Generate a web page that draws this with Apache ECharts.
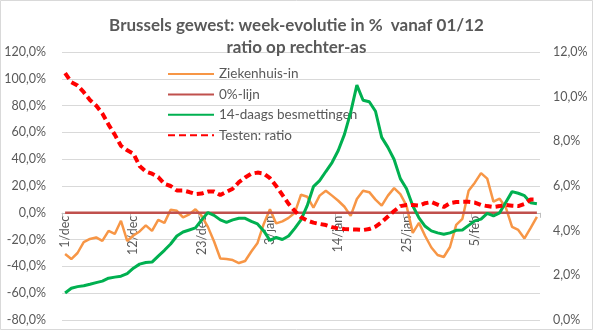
<!DOCTYPE html>
<html>
<head>
<meta charset="utf-8">
<script src="https://cdn.jsdelivr.net/npm/echarts@6/dist/echarts.min.js"></script>
<style>
  html, body { margin: 0; padding: 0; background: #fff; }
  #chart { width: 593px; height: 330px; }
</style>
</head>
<body>
<div id="chart"></div>
<script>
// Dagelijkse categorieën 1/dec .. 15/feb
const dates = [
  '1/dec','2/dec','3/dec','4/dec','5/dec','6/dec','7/dec','8/dec','9/dec','10/dec',
  '11/dec','12/dec','13/dec','14/dec','15/dec','16/dec','17/dec','18/dec','19/dec','20/dec',
  '21/dec','22/dec','23/dec','24/dec','25/dec','26/dec','27/dec','28/dec','29/dec','30/dec',
  '31/dec','1/jan','2/jan','3/jan','4/jan','5/jan','6/jan','7/jan','8/jan','9/jan',
  '10/jan','11/jan','12/jan','13/jan','14/jan','15/jan','16/jan','17/jan','18/jan','19/jan',
  '20/jan','21/jan','22/jan','23/jan','24/jan','25/jan','26/jan','27/jan','28/jan','29/jan',
  '30/jan','31/jan','1/feb','2/feb','3/feb','4/feb','5/feb','6/feb','7/feb','8/feb',
  '9/feb','10/feb','11/feb','12/feb','13/feb','14/feb','15/feb'
];

// Week-evolutie ziekenhuisopnames (%)
const ziekenhuisIn = [
  -30.8,-34.5,-30.0,-21.8,-19.5,-18.4,-21.0,-13.5,-15.8,-6.0,
  -21.0,-16.9,-13.9,-9.4,-13.5,-5.3,-7.5,2.3,1.5,-3.4,
  -1.1,2.6,-2.3,-10.5,-21.4,-34.1,-34.5,-35.3,-37.5,-36.0,
  -28.9,-22.5,-8.3,2.6,-7.9,-6.4,-3.8,0.0,13.5,12.0,
  3.8,12.8,16.5,12.8,9.0,4.5,-2.3,10.3,16.5,15.4,
  9.8,5.3,12.8,18.4,13.9,5.3,-15.0,-7.5,-17.3,-25.9,
  -31.5,-33.0,-25.5,-9.0,-4.5,16.5,22.5,29.6,25.5,8.3,
  10.5,3.8,-10.5,-12.8,-19.1,-11.3,-3.0
];

// Referentielijn op 0%
const nulLijn = dates.map(() => 0);

// Week-evolutie 14-daagse besmettingen (%)
const besmettingen14 = [
  -59.8,-56.3,-55.1,-54.4,-53.3,-52.1,-51.0,-48.8,-48.0,-47.3,
  -45.4,-41.3,-38.3,-37.1,-36.8,-32.3,-28.0,-23.3,-17.3,-14.3,
  -12.8,-11.3,-5.3,0.2,-1.9,-5.3,-7.1,-5.3,-4.1,-4.1,
  -6.4,-8.3,-13.5,-20.6,-18.4,-19.9,-17.3,-11.6,-5.3,5.3,
  19.5,24.0,30.8,37.5,46.5,58.5,75.0,95.3,84.0,82.9,
  75.8,56.3,48.8,39.8,25.5,18.0,5.3,-3.8,-10.1,-13.5,
  -15.0,-16.0,-15.0,-13.1,-12.8,-9.4,-6.0,-4.7,-0.4,-2.3,
  0.0,7.9,15.8,14.6,12.8,7.5,6.75
];

// Positiviteitsratio testen (%), rechter-as
const testenRatio = [
  11.05,10.65,10.5,10.2,9.85,9.6,9.25,8.75,8.3,7.8,
  7.6,7.45,6.9,6.65,6.55,6.4,6.1,6.0,5.8,5.8,
  5.73,5.64,5.66,5.75,5.75,5.6,5.74,5.88,6.17,6.38,
  6.55,6.6,6.56,6.35,6.0,5.6,5.2,4.88,4.6,4.45,
  4.36,4.3,4.25,4.16,4.1,4.07,4.06,4.05,4.03,4.07,
  4.18,4.38,4.63,4.88,5.1,5.15,5.15,5.12,5.23,5.28,
  5.17,5.06,5.23,5.28,5.29,5.29,5.26,5.15,5.1,5.06,
  5.1,5.15,5.12,5.1,5.2,5.4,5.4
];

const leftTicks = { min: -80, max: 120, step: 20 };
const rightTicks = { min: 0, max: 12, step: 2 };

const FONT = 'Lato, "Open Sans", sans-serif';
const TXT = '#595959';
const pct = v => v.toFixed(1).replace('.', ',') + '%';

// Plotgebied
const GRID = { left: 62, right: 53, top: 52, bottom: 10 };
const plotHeight = 330 - GRID.top - GRID.bottom;
// Verschuiving van de categorie-as naar de 0%-hoogte van de linker-as
const zeroShift = -plotHeight * (0 - leftTicks.min) / (leftTicks.max - leftTicks.min);

const chart = echarts.init(document.getElementById('chart'), null, { renderer: 'canvas' });

chart.setOption({
  animation: false,
  backgroundColor: '#ffffff',
  textStyle: { fontFamily: FONT },
  graphic: [{
    type: 'rect', silent: true, z: 100,
    shape: { x: 0.5, y: 0.5, width: 592, height: 329 },
    style: { fill: null, stroke: '#d9d9d9', lineWidth: 1 }
  }],
  title: {
    text: 'Brussels gewest: week-evolutie in %  vanaf 01/12\nratio op rechter-as',
    left: 'center',
    top: 10,
    textStyle: { fontFamily: FONT, fontWeight: 'bold', fontSize: 17, color: TXT, lineHeight: 22 }
  },
  legend: {
    orient: 'vertical',
    left: 162,
    top: 62,
    itemWidth: 46,
    itemHeight: 14,
    itemGap: 6.4,
    itemStyle: { opacity: 0 },
    textStyle: { fontFamily: FONT, fontSize: 13.5, color: TXT },
    data: ['Ziekenhuis-in', '0%-lijn', '14-daags besmettingen', 'Testen: ratio']
  },
  grid: { left: GRID.left, right: GRID.right, top: GRID.top, bottom: GRID.bottom, containLabel: false },
  xAxis: {
    type: 'category',
    data: dates,
    boundaryGap: true,
    position: 'bottom',
    offset: zeroShift,
    axisLine: { onZero: false, lineStyle: { color: '#bfbfbf', width: 1 } },
    axisTick: { show: true, interval: 10, length: 5, lineStyle: { color: '#bfbfbf' } },
    axisLabel: { interval: 10, rotate: 90, margin: 3, fontSize: 12.5, color: TXT, fontFamily: FONT },
    splitLine: { show: false }
  },
  yAxis: [
    {
      type: 'value',
      min: leftTicks.min, max: leftTicks.max, interval: leftTicks.step,
      axisLine: { show: false }, axisTick: { show: false },
      axisLabel: { formatter: pct, margin: 16, fontSize: 12.5, color: TXT, fontFamily: FONT },
      splitLine: { lineStyle: { color: '#d9d9d9', width: 1 } }
    },
    {
      type: 'value',
      position: 'right',
      min: rightTicks.min, max: rightTicks.max, interval: rightTicks.step,
      axisLine: { show: false }, axisTick: { show: false },
      axisLabel: { formatter: pct, margin: 13, fontSize: 12.5, color: TXT, fontFamily: FONT },
      splitLine: { show: false }
    }
  ],
  series: [
    {
      name: 'Ziekenhuis-in', type: 'line', yAxisIndex: 0, data: ziekenhuisIn,
      symbol: 'none',
      lineStyle: { color: '#F79646', width: 2.5 }, itemStyle: { color: '#F79646' }, z: 2
    },
    {
      name: '0%-lijn', type: 'line', yAxisIndex: 0, data: nulLijn,
      symbol: 'none',
      lineStyle: { color: '#C0504D', width: 2.5 }, itemStyle: { color: '#C0504D' }, z: 3
    },
    {
      name: '14-daags besmettingen', type: 'line', yAxisIndex: 0, data: besmettingen14,
      symbol: 'none',
      lineStyle: { color: '#00B050', width: 3 }, itemStyle: { color: '#00B050' }, z: 4
    },
    {
      name: 'Testen: ratio', type: 'line', yAxisIndex: 1, data: testenRatio,
      symbol: 'none',
      lineStyle: { color: '#FF0000', width: 4, type: [7, 4] }, itemStyle: { color: '#FF0000' }, z: 5
    }
  ]
});
</script>
</body>
</html>
